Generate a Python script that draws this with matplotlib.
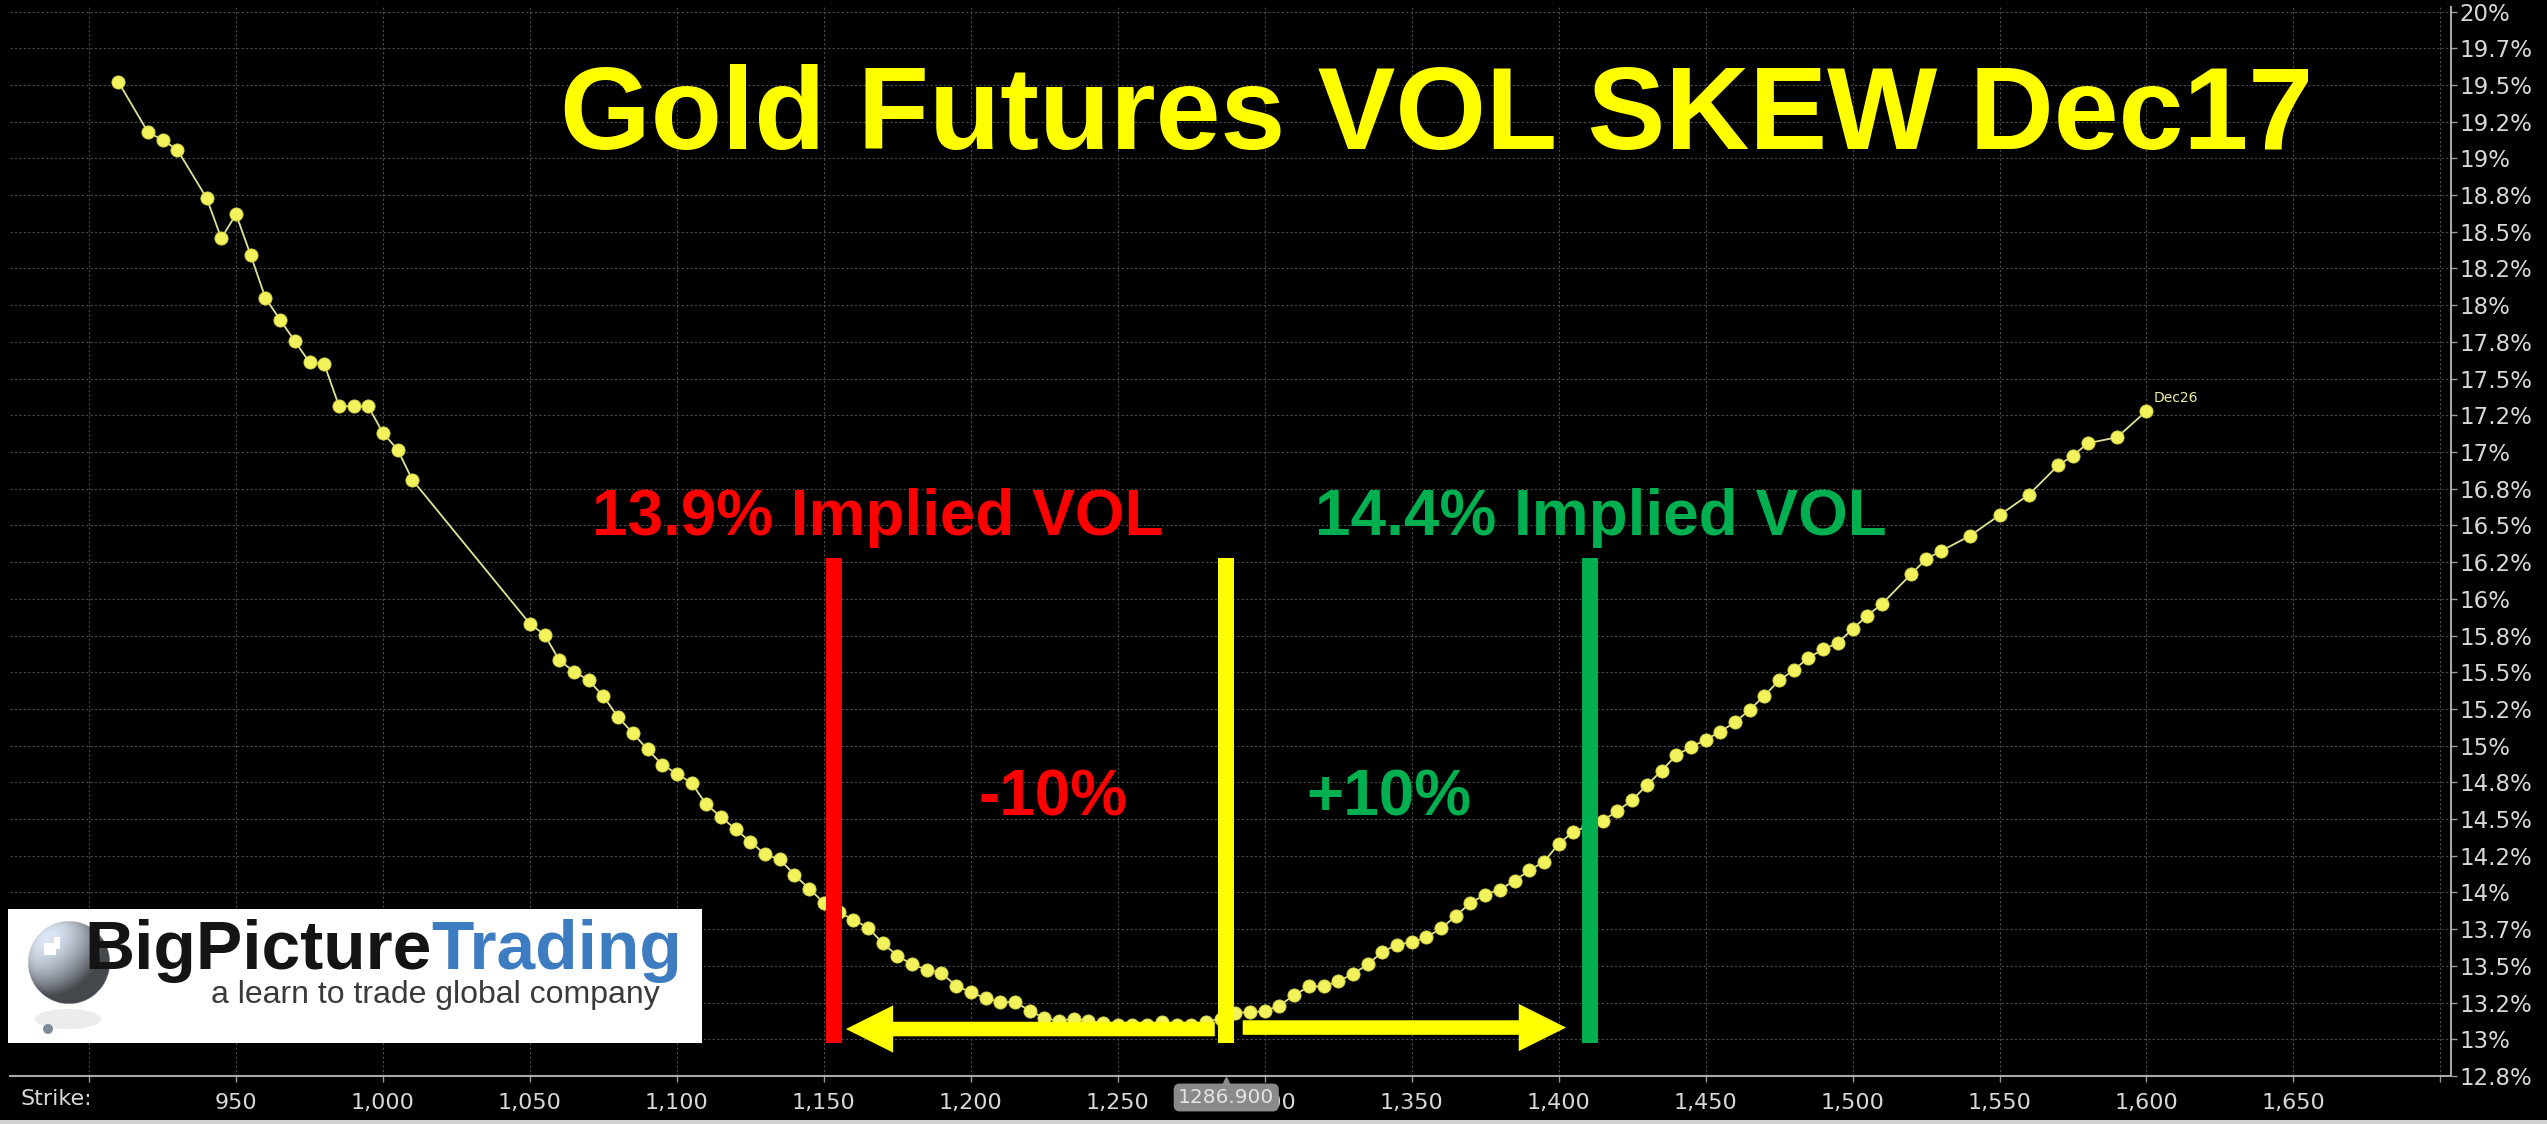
import matplotlib.pyplot as plt
import numpy as np
from matplotlib.patches import Rectangle, Circle, Ellipse, Polygon
from matplotlib.transforms import blended_transform_factory

# Dec17 gold futures implied vol by strike
STRIKES = [
    910, 920, 925, 930, 940, 945, 950, 955, 960, 965, 970, 975, 980, 985, 990,
    995, 1000, 1005, 1010,
    1050, 1055, 1060, 1065, 1070, 1075, 1080, 1085, 1090, 1095, 1100, 1105,
    1110, 1115, 1120, 1125, 1130, 1135, 1140, 1145, 1150, 1155, 1160, 1165,
    1170, 1175, 1180, 1185, 1190, 1195, 1200, 1205, 1210, 1215, 1220, 1225,
    1230, 1235, 1240, 1245, 1250, 1255, 1260, 1265, 1270, 1275, 1280, 1285,
    1290, 1295, 1300, 1305, 1310, 1315, 1320, 1325, 1330, 1335, 1340, 1345,
    1350, 1355, 1360, 1365, 1370, 1375, 1380, 1385, 1390, 1395, 1400, 1405,
    1410, 1415, 1420, 1425, 1430, 1435, 1440, 1445, 1450, 1455, 1460, 1465,
    1470, 1475, 1480, 1485, 1490, 1495, 1500, 1505, 1510, 1520, 1525, 1530,
    1540, 1550, 1560, 1570, 1575, 1580, 1590, 1600,
]
IMPLIED_VOL = [
    19.52, 19.18, 19.125, 19.06, 18.73, 18.455, 18.62, 18.34, 18.05, 17.90,
    17.755, 17.61, 17.60, 17.315, 17.31, 17.31, 17.13, 17.015, 16.81,
    15.83, 15.755, 15.58, 15.505, 15.445, 15.335, 15.195, 15.085, 14.975,
    14.87, 14.81, 14.745, 14.60, 14.515, 14.43, 14.345, 14.26, 14.225, 14.12,
    14.025, 13.93, 13.865, 13.815, 13.76, 13.655, 13.57, 13.51, 13.475,
    13.45, 13.365, 13.32, 13.28, 13.255, 13.255, 13.195, 13.145, 13.125,
    13.14, 13.125, 13.11, 13.10, 13.10, 13.095, 13.115, 13.10, 13.10, 13.12,
    13.14, 13.18, 13.186, 13.19, 13.23, 13.30, 13.36, 13.36, 13.395, 13.445,
    13.51, 13.595, 13.645, 13.66, 13.695, 13.755, 13.84, 13.93, 13.985,
    14.02, 14.08, 14.15, 14.21, 14.33, 14.415, 14.45, 14.49, 14.555, 14.63,
    14.73, 14.83, 14.935, 14.99, 15.04, 15.095, 15.16, 15.245, 15.34,
    15.445, 15.515, 15.60, 15.655, 15.70, 15.795, 15.885, 15.965, 16.17,
    16.27, 16.325, 16.43, 16.57, 16.71, 16.91, 16.975, 17.06, 17.10, 17.28,
]
SERIES_LABEL = "Dec26"

X_TICKS = [900, 950, 1000, 1050, 1100, 1150, 1200, 1250, 1300, 1350, 1400,
           1450, 1500, 1550, 1600, 1650, 1700]
X_TICK_LABELS = ["", "950", "1,000", "1,050", "1,100", "1,150", "1,200",
                 "1,250", "1,300", "1,350", "1,400", "1,450", "1,500",
                 "1,550", "1,600", "1,650", ""]
Y_TICKS = [12.75, 13.0, 13.25, 13.5, 13.75, 14.0, 14.25, 14.5, 14.75, 15.0,
           15.25, 15.5, 15.75, 16.0, 16.25, 16.5, 16.75, 17.0, 17.25, 17.5,
           17.75, 18.0, 18.25, 18.5, 18.75, 19.0, 19.25, 19.5, 19.75, 20.0]
Y_TICK_LABELS = ["12.8%", "13%", "13.2%", "13.5%", "13.7%", "14%", "14.2%",
                 "14.5%", "14.8%", "15%", "15.2%", "15.5%", "15.8%", "16%",
                 "16.2%", "16.5%", "16.8%", "17%", "17.2%", "17.5%", "17.8%",
                 "18%", "18.2%", "18.5%", "18.8%", "19%", "19.2%", "19.5%",
                 "19.7%", "20%"]

SPOT = 1286.9
# -10% / spot / +10% markers as drawn on the chart
MARKER_STRIKES = [1153.5, SPOT, 1410.5]
MARKER_COLORS = ["#ff0000", "#ffff00", "#00b050"]
MARKER_LOW, MARKER_HIGH = 12.975, 16.28

ARROW_TAIL = [1283.0, 1292.5]
ARROW_TIP = [1157.5, 1402.5]
ARROW_Y = [13.07, 13.08]

TITLE = "Gold Futures VOL SKEW Dec17"
BOLD_FONT = ["Liberation Sans", "DejaVu Sans"]
AXIS_TEXT = "#d8d8d8"

W, H, DPI = 2547, 1124, 100
fig = plt.figure(figsize=(W / DPI, H / DPI), dpi=DPI, facecolor="black")
ax = fig.add_axes([10 / W, (H - 1076) / H, 2441 / W, 1069 / H])
ax.set_facecolor("black")
ax.set_xlim(873.1, 1703.6)
ax.set_ylim(12.75, 20.031)

ax.yaxis.tick_right()
ax.set_xticks(X_TICKS, X_TICK_LABELS)
ax.set_yticks(Y_TICKS, Y_TICK_LABELS)
ax.tick_params(axis="x", colors=AXIS_TEXT, labelsize=16, length=4, width=1,
               pad=8)
ax.tick_params(axis="y", colors=AXIS_TEXT, labelsize=16.5, length=4, width=1,
               pad=2)
ax.tick_params(color="#9a9a9a")
ax.grid(True, color="#4a4a4a", linestyle=(0, (2, 2)), linewidth=0.8)
ax.set_axisbelow(True)
for side in ["left", "top"]:
    ax.spines[side].set_visible(False)
for side in ["right", "bottom"]:
    ax.spines[side].set_color("#a8a8a8")
    ax.spines[side].set_linewidth(1.5)

ax.plot(STRIKES, IMPLIED_VOL, color="#e2e296", linewidth=1.3, marker="o",
        markersize=9.5, markerfacecolor="#f2f25c", markeredgecolor="#d0d048",
        markeredgewidth=0.6, zorder=3)
ax.text(STRIKES[-1] + 2.4, IMPLIED_VOL[-1] + 0.04, SERIES_LABEL,
        color="#eeeeaa", fontsize=10, ha="left", va="bottom")

ax.vlines(MARKER_STRIKES, MARKER_LOW, MARKER_HIGH, colors=MARKER_COLORS,
          linewidth=11.5, capstyle="butt", zorder=5)

for tail, tip, y in zip(ARROW_TAIL, ARROW_TIP, ARROW_Y):
    ax.annotate("", xy=(tip, y), xytext=(tail, y),
                arrowprops=dict(facecolor="#ffff00", edgecolor="none",
                                linewidth=0, width=10.5, headwidth=34,
                                headlength=34, shrink=0),
                zorder=6)

ax.text(1168.4, 16.435, "13.9% Implied VOL", color="#ff0000", fontsize=46,
        fontweight="bold", family=BOLD_FONT, ha="center", va="baseline",
        zorder=7)
ax.text(1414.3, 16.435, "14.4% Implied VOL", color="#00b050", fontsize=46,
        fontweight="bold", family=BOLD_FONT, ha="center", va="baseline",
        zorder=7)
ax.text(1227.9, 14.527, "-10%", color="#ff0000", fontsize=46,
        fontweight="bold", family=BOLD_FONT, ha="center", va="baseline",
        zorder=7)
ax.text(1342.2, 14.527, "+10%", color="#00b050", fontsize=46,
        fontweight="bold", family=BOLD_FONT, ha="center", va="baseline",
        zorder=7)

fig.text(1437 / W, (H - 149) / H, TITLE, color="#ffff00", fontsize=84,
         fontweight="bold", family=BOLD_FONT, ha="center", va="baseline")

fig.text(20 / W, (H - 1099) / H, "Strike:", color=AXIS_TEXT, fontsize=16,
         ha="left", va="center")

# spot price flag under the x axis
ax.annotate(f"{SPOT:.3f}", xy=(SPOT, 0), xycoords=("data", "axes fraction"),
            xytext=(0, -21.5), textcoords="offset pixels", ha="center",
            va="center", fontsize=14.5, color="#e4e4e4",
            bbox=dict(boxstyle="round,pad=0.22,rounding_size=0.3",
                      fc="#8a8a8a", ec="none"),
            zorder=10, annotation_clip=False)
ax.plot([SPOT], [-0.0045], marker="^", markersize=6, color="#8a8a8a",
        transform=blended_transform_factory(ax.transData, ax.transAxes),
        clip_on=False, zorder=10)

fig.patches.append(Rectangle((0, 0), 1, 4 / H, transform=fig.transFigure,
                             fc="#d0d0d0", ec="none"))

# logo box
lax = fig.add_axes([8 / W, (H - 1043) / H, 694 / W, 134 / H])
lax.set_zorder(5)
lax.set_facecolor("white")
lax.set_xticks([])
lax.set_yticks([])
for s in lax.spines.values():
    s.set_visible(False)

n = 240
g = np.linspace(-1, 1, n)
gx, gy = np.meshgrid(g, g)
r2 = gx ** 2 + gy ** 2
gz = np.sqrt(np.clip(1 - r2, 0, 1))
light = np.array([-0.55, -0.6, 0.58])
light = light / np.linalg.norm(light)
shade = np.clip(gx * light[0] + gy * light[1] + gz * light[2], 0, 1)
val = 0.3 + 0.66 * shade
rgba = np.zeros((n, n, 4))
rgba[..., 0] = val * 0.9
rgba[..., 1] = val * 0.94
rgba[..., 2] = val
rgba[..., 3] = (r2 <= 1).astype(float)
lax.add_patch(Ellipse((60, 110), 66, 20, fc="#ececec", ec="none", zorder=1))
lax.add_patch(Circle((40, 120), 5, fc="#7d8a98", ec="none", zorder=2))
lax.imshow(rgba, extent=(20, 102, 95, 13), interpolation="bilinear",
           zorder=2)
lax.add_patch(Polygon([(36, 34), (46, 34), (46, 28), (52, 28), (52, 40),
                       (48, 40), (48, 46), (36, 46)], closed=True,
                      fc="white", ec="none", zorder=3))
lax.set_aspect("auto")
lax.set_xlim(0, 694)
lax.set_ylim(134, 0)

t1 = lax.text(76, 60, "BigPicture", color="#141414", fontsize=50,
              fontweight="bold", family=BOLD_FONT, ha="left", va="baseline")
fig.canvas.draw()
bb = t1.get_window_extent()
x_end = lax.transData.inverted().transform((bb.x1, bb.y0))[0]
lax.text(x_end, 60, "Trading", color="#3d7cc0", fontsize=50,
         fontweight="bold", family=BOLD_FONT, ha="left", va="baseline")
lax.text(652, 94, "a learn to trade global company", color="#3a3a3a",
         fontsize=23, family=BOLD_FONT, ha="right", va="baseline")

fig.savefig("out.png", dpi=DPI, facecolor="black")
